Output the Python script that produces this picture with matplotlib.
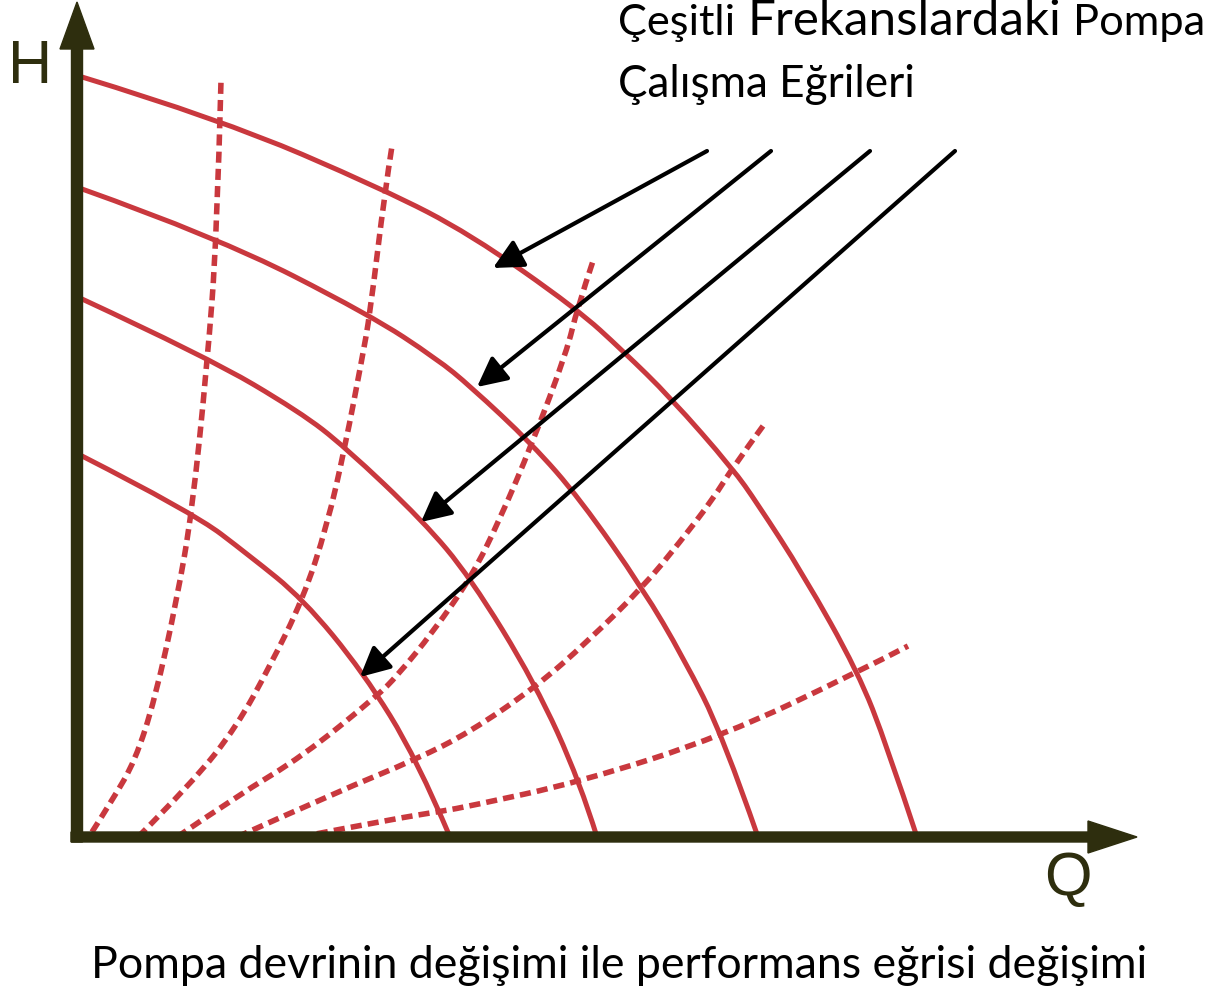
import matplotlib
matplotlib.use('Agg')
import matplotlib.pyplot as plt
from matplotlib.path import Path
from matplotlib.patches import PathPatch

# pump curves at different speeds (Q, H)
q1 = [0.5, 14.3, 30.8, 39.3, 50.0, 54.6, 59.3, 65.6, 68.0, 72.6, 78.1, 81.0, 84.0]
h1 = [76.0, 71.8, 64.7, 60.3, 52.8, 48.6, 44.0, 36.8, 33.4, 26.3, 16.5, 9.1, 0.0]
q2 = [0.5, 14.0, 29.3, 36.0, 39.3, 45.5, 50.3, 56.6, 60.6, 64.6, 68.1]
h2 = [64.8, 60.0, 52.2, 47.8, 45.1, 39.3, 33.8, 24.8, 18.0, 10.1, 0.0]
q3 = [0.5, 13.0, 22.3, 26.8, 34.6, 39.3, 45.8, 50.3, 52.0]
h3 = [53.8, 48.0, 42.5, 39.0, 31.6, 26.0, 15.4, 5.5, 0.0]
q4 = [0.5, 11.5, 17.3, 22.6, 28.6, 34.0, 37.3]
h4 = [38.1, 32.5, 28.1, 23.8, 16.5, 7.8, 0.0]

# dashed curves
d1q = [1.5, 3.6, 5.8, 7.8, 10.0, 11.5, 13.0, 14.0, 14.4]
d1h = [0.5, 3.8, 7.6, 13.8, 23.8, 32.5, 47.1, 60.1, 75.6]
d2q = [6.1, 11.6, 16.0, 19.3, 22.6, 25.0, 26.8, 28.5, 29.3, 30.8, 31.5]
d2h = [0.0, 5.5, 11.1, 17.1, 23.8, 31.1, 39.0, 47.8, 52.3, 64.7, 69.1]
d3q = [10.0, 16.0, 22.6, 30.0, 32.0, 35.6, 39.5, 42.3, 45.5, 49.0, 50.0, 51.6]
d3h = [0.0, 4.1, 8.1, 14.1, 16.1, 20.5, 26.1, 31.8, 39.3, 48.6, 52.8, 57.6]
d4q = [16.0, 26.0, 34.0, 39.3, 46.0, 51.0, 56.6, 60.3, 63.6, 65.6, 68.6]
d4h = [0.0, 4.5, 7.8, 10.5, 15.1, 19.5, 25.0, 29.5, 33.8, 37.0, 41.1]
d5q = [22.3, 31.6, 36.6, 39.3, 50.3, 64.6, 78.1, 83.1]
d5h = [0.0, 1.8, 2.6, 3.1, 5.5, 10.1, 16.5, 19.1]

solid = [(q1, h1), (q2, h2), (q3, h3), (q4, h4)]
dashed = [(d1q, d1h), (d2q, d2h), (d3q, d3h), (d4q, d4h), (d5q, d5h)]

title1 = ['Çeşitli', 'Frekanslardaki', 'Pompa']
title2 = 'Çalışma Eğrileri'
caption = 'Pompa devrinin değişimi ile performans eğrisi değişimi'

red = '#c9383e'
olive = '#2e2e0e'


def smooth(q, h):
    # quadratic bezier path using the read points as control points
    pts = list(zip(q, h))
    verts = [pts[0]]
    codes = [Path.MOVETO]
    for i in range(1, len(pts) - 1):
        if i < len(pts) - 2:
            end = ((pts[i][0] + pts[i + 1][0]) / 2, (pts[i][1] + pts[i + 1][1]) / 2)
        else:
            end = pts[-1]
        verts += [pts[i], end]
        codes += [Path.CURVE3, Path.CURVE3]
    return Path(verts, codes)


fig = plt.figure(figsize=(12.11, 9.87), dpi=100)
ax = fig.add_axes([0, 0, 1, 1])
ax.set_xlim(-7.7, 113.4)
ax.set_ylim(-14.9, 83.8)
ax.axis('off')

for q, h in dashed:
    ax.add_patch(PathPatch(smooth(q, h), fill=False, edgecolor=red, lw=4,
                           ls=(0, (2.0, 1.1)), capstyle='butt', zorder=2))
for q, h in solid:
    ax.add_patch(PathPatch(smooth(q, h), fill=False, edgecolor=red, lw=3.6,
                           capstyle='butt', zorder=3))

# axes with arrow heads
ax.arrow(0, -0.5, 0, 84.0, width=1.1, head_width=3.4, head_length=4.7,
         length_includes_head=True, color=olive, zorder=5)
ax.arrow(-0.6, 0, 106.6, 0, width=1.0, head_width=3.2, head_length=4.9,
         length_includes_head=True, color=olive, zorder=5)
ax.text(-4.7, 77.1, 'H', fontsize=44, color=olive, family='Liberation Sans',
        ha='center', va='center')
ax.text(99.1, -4.2, 'Q', fontsize=44, color=olive, family='Liberation Sans',
        ha='center', va='center')

# pointer arrows
starts = [(63.0, 68.6), (69.4, 68.6), (79.3, 68.6), (87.8, 68.6)]
tips = [(41.6, 56.9), (40.0, 45.0), (34.4, 31.5), (28.3, 16.0)]
for s, t in zip(starts, tips):
    ax.annotate('', xy=t, xytext=s,
                arrowprops=dict(arrowstyle='-|>', color='black', lw=3,
                                mutation_scale=45, shrinkA=0, shrinkB=0),
                zorder=6)

font = 'Lato'
t1 = ax.text(54.1, 80.3, title1[0], fontsize=26, family=font, color='black', va='baseline')
t2 = ax.text(67.1, 80.3, title1[1], fontsize=30, family=font, color='black', va='baseline')
t3 = ax.text(99.6, 80.3, title1[2], fontsize=26, family=font, color='black', va='baseline')
t4 = ax.text(54.1, 74.1, title2, fontsize=27, family=font, color='black', va='baseline')
t5 = ax.text(54.2, -14.0, caption, fontsize=28, family=font, color='black',
             ha='center', va='baseline')

fig.canvas.draw()
r = fig.canvas.get_renderer()
for t, w in zip([t1, t2, t3, t4, t5], [117, 314, 132, 297, 1058]):
    bb = t.get_window_extent(r)
    t.set_fontsize(t.get_fontsize() * w / bb.width)

fig.savefig('out.png', dpi=100)
